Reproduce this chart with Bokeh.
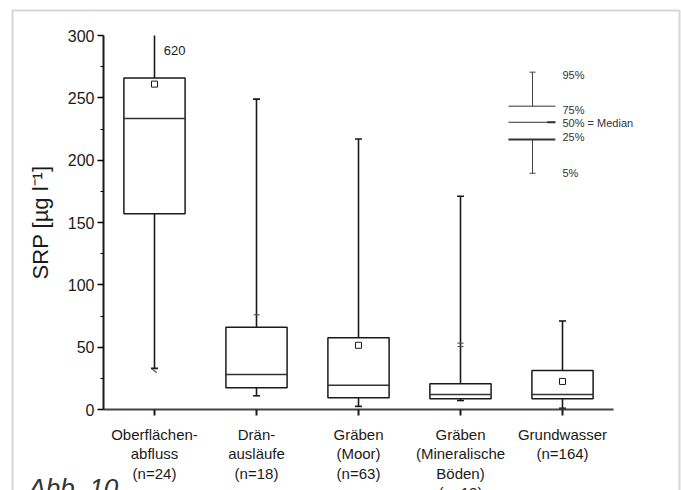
from bokeh.plotting import figure
from bokeh.models import FixedTicker, Label, ColumnDataSource, BoxAnnotation, Range1d
from bokeh.embed import file_html
from bokeh.resources import INLINE

# ---- data ----
cat_labels = ["Oberflächen-\nabfluss\n(n=24)", "Drän-\nausläufe\n(n=18)",
              "Gräben\n(Moor)\n(n=63)", "Gräben\n(Mineralische\nBöden)\n(n=12)",
              "Grundwasser\n(n=164)"]
positions = [1, 2, 3, 4, 5]
p95 = [620, 249, 217, 171, 71]
p75 = [266, 66, 57.5, 20.6, 31.3]
median = [233.5, 28, 19.5, 12, 12]
p25 = [157, 17.5, 9.5, 8.6, 8.6]
p5 = [33, 11, 2.5, 7.2, 1]
mean_x = [1, 3, 5]
mean_y = [261, 51.5, 22.5]
extra_x = [2, 4, 4]
extra_y = [76, 50.5, 53.2]
slash_x = [1]
slash_y = [31]
label_620 = "620"
y_ticks = [0, 50, 100, 150, 200, 250, 300]
y_minor = [25, 75, 125, 175, 225, 275]

legend_texts = ["95%", "75%", "50% = Median", "25%", "5%"]
legend_levels = [270.6, 243.3, 230.4, 216.6, 189.5]
legend_text_y = [268, 240, 229.5, 218.5, 190]

FONT = "Liberation Sans"
INK = "#1a1a1a"

# ---- layout: the plotting frame fills the whole canvas; axes sit at fixed locations ----
W, H = 681, 490
AX_L, AX_R = 103, 613      # pixel extent of x axis (x = 0.5 .. 5.5)
AX_B, AX_T = 409, 35       # pixel extent of y axis (y = 0 .. 300)
XMIN, XMAX, YMIN, YMAX = 0.5, 5.5, 0, 300
kx = (AX_R - AX_L) / (XMAX - XMIN)
ky = (AX_B - AX_T) / (YMAX - YMIN)
x_start = XMIN - AX_L / kx
x_end = x_start + W / kx
y_start = YMIN - (H - AX_B) / ky
y_end = y_start + H / ky


def px_x(px):
    return x_start + px / kx


def px_y(py):
    return y_start + (H - py) / ky


p = figure(width=W, height=H, output_backend="svg", toolbar_location=None,
           x_range=Range1d(x_start, x_end), y_range=Range1d(y_start, y_end),
           min_border=0, min_border_left=0, min_border_right=0,
           min_border_top=0, min_border_bottom=0)
p.outline_line_color = None
p.xgrid.grid_line_color = None
p.ygrid.grid_line_color = None

# outer page frame
p.add_layout(BoxAnnotation(left=px_x(12), right=px_x(679), top=px_y(10), bottom=px_y(520),
                           fill_color=None, line_color="#777", line_width=2))

bw = 0.6
src = ColumnDataSource(dict(x=positions, p95=p95, p75=p75, med=median, p25=p25, p5=p5,
                            x0=[v - bw / 2 for v in positions], x1=[v + bw / 2 for v in positions],
                            top_clip=[min(v, YMAX) for v in p95]))

# whiskers (upper whisker of the first box leaves the axis range: value written as label)
p.segment(x0="x", y0="p75", x1="x", y1="top_clip", source=src, line_color=INK, line_width=1.6)
p.segment(x0="x", y0="p25", x1="x", y1="p5", source=src, line_color=INK, line_width=1.6)
# caps
cap_src = ColumnDataSource(dict(x=[x for x, v in zip(positions, p95) if v <= YMAX],
                                y=[v for v in p95 if v <= YMAX]))
p.scatter(x="x", y="y", source=cap_src, marker="dash", size=7, line_color=INK, line_width=1.6)
p.scatter(x="x", y="p5", source=src, marker="dash", size=7, line_color=INK, line_width=1.6)
# boxes
p.vbar(x="x", width=bw, top="p75", bottom="p25", source=src, fill_color="white",
       line_color=INK, line_width=1.5)
# medians
p.segment(x0="x0", y0="med", x1="x1", y1="med", source=src, line_color="#333", line_width=1.5)
# means
p.scatter(mean_x, mean_y, marker="square", size=6, fill_color=None, line_color=INK, line_width=1)
# extra marks
p.scatter(extra_x, extra_y, marker="dash", size=6, line_color="#555", line_width=1.2)
p.scatter(slash_x, slash_y, marker="dash", size=6, angle=-0.7, line_color="#555", line_width=1.2)

p.add_layout(Label(x=1.09, y=288, text=label_620, text_font=FONT, text_font_size="13px",
                   text_color=INK, text_baseline="middle"))

# legend (drawn as a small schematic box)
lx, lx0, lx1 = 4.706, 4.47, 4.93
p.segment(x0=[lx, lx], y0=[legend_levels[1], legend_levels[3]], x1=[lx, lx],
          y1=[legend_levels[0], legend_levels[4]], line_color="#444", line_width=1)
p.scatter([lx, lx], [legend_levels[0], legend_levels[4]], marker="dash", size=6,
          line_color="#444", line_width=1)
p.segment(x0=[lx0, lx0, lx0], y0=legend_levels[1:4], x1=[lx1, lx1, lx1], y1=legend_levels[1:4],
          line_color="#333", line_width=[1, 1, 2])
p.segment(x0=[4.85], y0=[legend_levels[2]], x1=[4.93], y1=[legend_levels[2]],
          line_color="#333", line_width=2)
for t, ty in zip(legend_texts, legend_text_y):
    p.add_layout(Label(x=5.0, y=ty, text=t, text_font=FONT, text_font_size="11px",
                       text_color="#333", text_baseline="middle"))

# figure caption, cut at the page bottom as in the source
p.add_layout(Label(x=px_x(28), y=px_y(472), text="Abb. 10", text_font=FONT,
                   text_font_size="26px", text_font_style="italic", text_color="#333",
                   text_baseline="top"))

# axes
xa = p.xaxis[0]
xa.fixed_location = YMIN
xa.bounds = (XMIN, XMAX)
xa.ticker = FixedTicker(ticks=positions)
xa.major_label_overrides = {i: lab for i, lab in zip(positions, cat_labels)}
xa.major_label_text_font = FONT
xa.major_label_text_font_size = "15px"
xa.major_label_text_color = INK
xa.major_label_text_line_height = 1.15
xa.major_label_standoff = 10
xa.major_tick_in = 0
xa.major_tick_out = 6
xa.minor_tick_line_color = None
xa.axis_line_color = "#444"
xa.axis_line_width = 2
xa.major_tick_line_color = INK
xa.major_tick_line_width = 2

ya = p.yaxis[0]
ya.fixed_location = XMIN
ya.bounds = (YMIN, YMAX)
ya.ticker = FixedTicker(ticks=y_ticks, minor_ticks=y_minor)
ya.axis_label = "SRP [µg l⁻¹]"
ya.axis_label_text_font = FONT
ya.axis_label_text_font_size = "22px"
ya.axis_label_text_font_style = "normal"
ya.axis_label_text_color = INK
ya.axis_label_standoff = 12
ya.major_label_text_font = FONT
ya.major_label_text_font_size = "16px"
ya.major_label_text_color = INK
ya.major_label_standoff = 3
ya.major_tick_in = 0
ya.major_tick_out = 6
ya.minor_tick_in = 0
ya.minor_tick_out = 3
ya.axis_line_color = INK
ya.axis_line_width = 2
ya.major_tick_line_width = 1.5

open("out.html", "w").write(file_html(p, INLINE))
